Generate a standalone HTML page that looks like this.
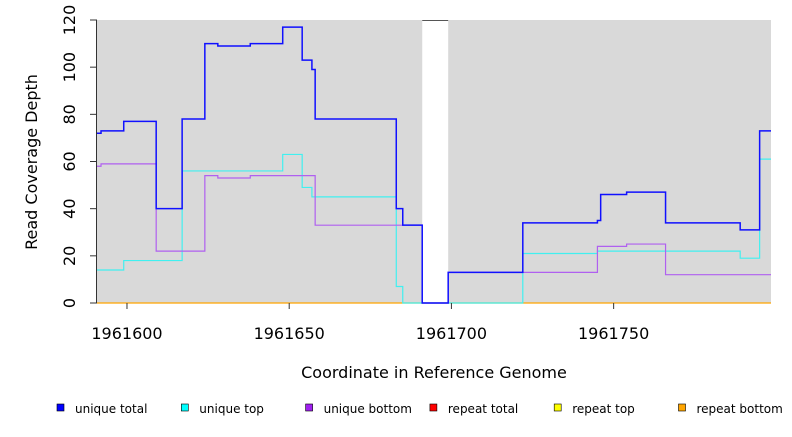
<!DOCTYPE html>
<html><head><meta charset="utf-8"><style>
body{margin:0;background:#fff;width:792px;height:432px;overflow:hidden;font-family:"Liberation Sans","DejaVu Sans",sans-serif}
svg text{font-family:"DejaVu Sans","Liberation Sans",sans-serif}
</style></head><body>
<svg id="chart" width="792" height="432" xmlns="http://www.w3.org/2000/svg"></svg>
<script>
const xTicks=[1961600,1961650,1961700,1961750];
const yTicks=[0,20,40,60,80,100,120];
const gapRange=[1961691,1961699];
const totalX=[1961590.76,1961592,1961599,1961609,1961617,1961624,1961628,1961638,1961648,1961654,1961657,1961658,1961683,1961685,1961691,1961699,1961722,1961745,1961746,1961754,1961766,1961789,1961795];
const totalY=[72,73,77,40,78,110,109,110,117,103,99,78,40,33,0,13,34,35,46,47,34,31,73];
const topX=[1961590.76,1961599,1961617,1961648,1961654,1961657,1961683,1961685,1961722,1961745,1961789,1961795];
const topY=[14,18,56,63,49,45,7,0,21,22,19,61];
const bottomX=[1961590.76,1961592,1961609,1961624,1961628,1961638,1961658,1961691,1961699,1961745,1961754,1961766];
const bottomY=[58,59,22,54,53,54,33,0,13,24,25,12];
const legendLabels=["unique total","unique top","unique bottom","repeat total","repeat top","repeat bottom"];
const legendColors=["#0000ff","#00ffff","#a020f0","#ff0000","#ffff00","#ffa500"];

const X0=1961590.76,X1=1961798.5,PL=97,PR=771,PT=20,PB=303;
const sx=v=>PL+(v-X0)/(X1-X0)*(PR-PL);
const sy=v=>PB-v/120*(PB-PT);
const svg=document.getElementById('chart');
const NS="http://www.w3.org/2000/svg";
function mk(tag,attrs,parent){const e=document.createElementNS(NS,tag);for(const k in attrs)e.setAttribute(k,attrs[k]);(parent||svg).appendChild(e);return e;}

let bg=mk('rect',{x:PL,y:PT,width:PR-PL,height:PB-PT,fill:'#d9d9d9'});


let gap=mk('rect',{x:sx(gapRange[0]),y:PT,width:sx(gapRange[1])-sx(gapRange[0]),height:PB-PT,fill:'#ffffff'});


let gl=mk('line',{x1:sx(gapRange[0]),x2:sx(gapRange[1]),y1:PT+0.5,y2:PT+0.5,stroke:'#555','stroke-width':1});



function stepPath(xs,ys){let d='';for(let i=0;i<xs.length;i++){const x=sx(xs[i]),y=sy(ys[i]);const xn=i+1<xs.length?sx(xs[i+1]):PR;d+=(i===0?'M':'L')+x+','+y+'L'+xn+','+y;}return d;}
let bl=mk('line',{x1:PL,x2:PR,y1:PB,y2:PB,stroke:'#ffa500','stroke-width':1.2});


let pt=mk('path',{d:stepPath(topX,topY),fill:'none',stroke:'#40f0f0','stroke-width':1.2});


let pb=mk('path',{d:stepPath(bottomX,bottomY),fill:'none',stroke:'#b060f0','stroke-width':1.2});


let ptot=mk('path',{d:stepPath(totalX,totalY),fill:'none',stroke:'#1010ff','stroke-width':1.5});



let ya=mk('line',{x1:PL-0.5,x2:PL-0.5,y1:sy(0),y2:sy(120),stroke:'#333'});


yTicks.forEach(v=>{const y=sy(v);
 let t=mk('line',{x1:PL-7,x2:PL,y1:y,y2:y,stroke:'#333'});
 
 
 let l=mk('text',{x:0,y:0,'font-size':16,'text-anchor':'middle',fill:'#000',transform:`translate(75,${y}) rotate(-90)`});
 l.textContent=v;
 
 
});
xTicks.forEach(v=>{const x=sx(v);
 let t=mk('line',{x1:x,x2:x,y1:PB,y2:PB+6,stroke:'#333'});
 
 
 let l=mk('text',{x:x,y:PB+36,'font-size':16,'text-anchor':'middle',fill:'#000'});
 l.textContent=v;
 
 
});
let xt=mk('text',{x:434,y:378,'font-size':16,'text-anchor':'middle'});
xt.textContent='Coordinate in Reference Genome';


let yt=mk('text',{x:0,y:0,'font-size':16,'text-anchor':'middle',transform:'translate(37,162) rotate(-90)'});
yt.textContent='Read Coverage Depth';



legendLabels.forEach((lab,i)=>{const x=57+i*124.3;
 let s=mk('rect',{x:x,y:404,width:7,height:7,fill:legendColors[i],stroke:'#000','stroke-width':0.6});
 
 
 let t=mk('text',{x:x+18,y:413,'font-size':12});
 t.textContent=lab;
 
 
});
</script>
</body></html>
